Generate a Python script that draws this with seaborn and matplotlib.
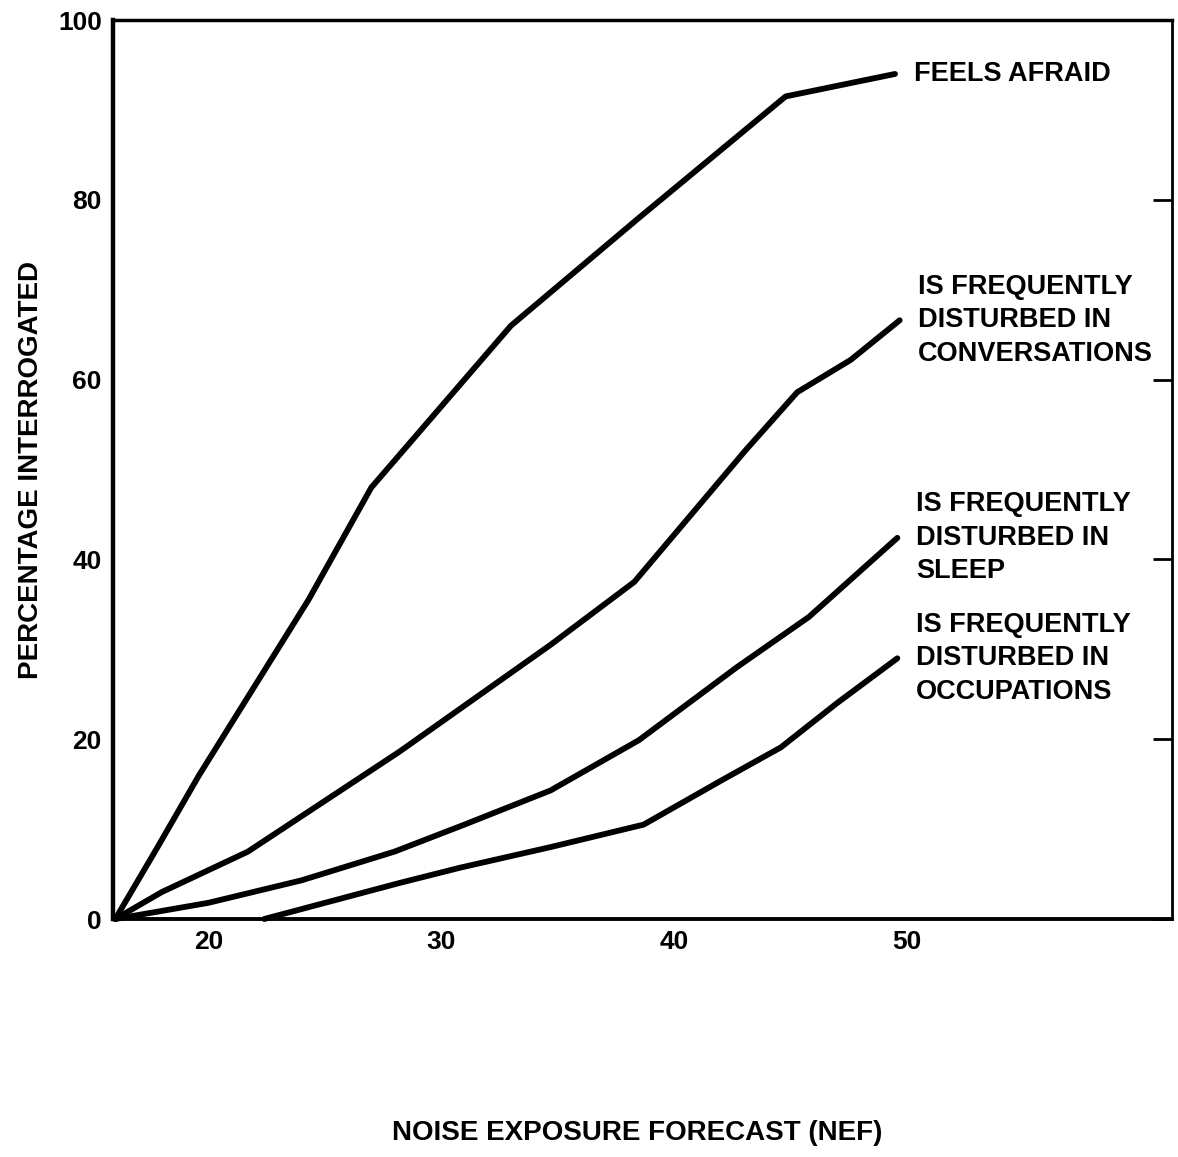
import seaborn as sns
import matplotlib.pyplot as plt
import pandas as pd

# NEF values (x) and percentage of respondents (y)
afraid_x = [16, 17.75, 19.6, 24.3, 27, 33, 38.5, 44.8, 49.5]
afraid_y = [0, 7.7, 16, 35.5, 48, 66, 78, 91.5, 94]

conv_x = [16, 18, 21.7, 28.2, 34.7, 38.3, 43.1, 45.3, 47.6, 49.7]
conv_y = [0, 3, 7.5, 18.6, 30.5, 37.5, 52.2, 58.6, 62.2, 66.6]

sleep_x = [16, 20, 24, 28, 31, 34.7, 38.5, 42.7, 45.8, 49.6]
sleep_y = [0, 1.8, 4.3, 7.5, 10.5, 14.3, 19.9, 28, 33.6, 42.4]

occ_x = [22.4, 28.2, 30.8, 34.7, 38.7, 42.1, 44.6, 47, 49.6]
occ_y = [0, 4, 5.7, 8, 10.5, 15.5, 19.1, 24, 29]

labels = ["FEELS AFRAID",
          "IS FREQUENTLY\nDISTURBED IN\nCONVERSATIONS",
          "IS FREQUENTLY\nDISTURBED IN\nSLEEP",
          "IS FREQUENTLY\nDISTURBED IN\nOCCUPATIONS"]

x_ticks = [20, 30, 40, 50]
y_ticks = [0, 20, 40, 60, 80, 100]

series = [(afraid_x, afraid_y), (conv_x, conv_y), (sleep_x, sleep_y), (occ_x, occ_y)]

sns.set_style("white")
plt.rcParams['font.family'] = ['Liberation Sans', 'DejaVu Sans']
plt.rcParams.update({"text.color": "black", "axes.labelcolor": "black",
                     "xtick.color": "black", "ytick.color": "black"})

fig = plt.figure(figsize=(11.78, 11.57), dpi=100)
ax = fig.add_axes([0.0959, 0.2057, 0.899, 0.777])

for (xs, ys), lab in zip(series, labels):
    df = pd.DataFrame({"nef": xs, "pct": ys})
    sns.lineplot(data=df, x="nef", y="pct", color="black", linewidth=4.2,
                 estimator=None, sort=False, ax=ax, clip_on=False,
                 solid_capstyle="round", solid_joinstyle="round")
    ax.text(xs[-1] + 0.8, ys[-1], lab, ha="left", va="center",
            fontsize=19.5, fontweight="bold", linespacing=1.38)

ax.set_xlim(15.9, 61.4)
ax.set_ylim(0, 100)

for side, lw in [("left", 3.2), ("bottom", 2.8), ("top", 2.5), ("right", 2.0)]:
    ax.spines[side].set_visible(True)
    ax.spines[side].set_linewidth(lw)
    ax.spines[side].set_color("black")

ax.set_xticks(x_ticks)
ax.set_yticks(y_ticks)
ax.tick_params(axis="x", direction="in", length=14, width=2, pad=8,
               labelsize=19)
ax.tick_params(axis="y", direction="in", length=14, width=2, pad=8,
               labelsize=19, right=True)
for t in ax.get_xticklabels() + ax.get_yticklabels():
    t.set_fontweight("bold")

ax.set_xlabel("")
ax.set_ylabel("PERCENTAGE INTERROGATED", fontsize=20, fontweight="bold",
              labelpad=10)
fig.text(0.541, 0.0207, "NOISE EXPOSURE FORECAST (NEF)", ha="center",
         va="center", fontsize=20, fontweight="bold")

fig.savefig("out.png", dpi=100)
